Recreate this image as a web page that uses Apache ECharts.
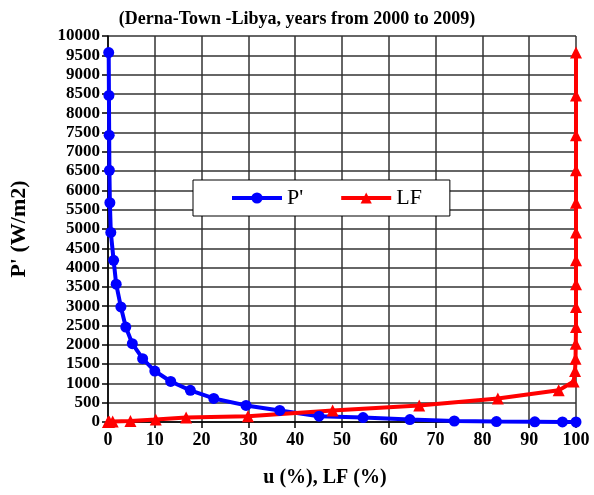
<!DOCTYPE html>
<html>
<head>
<meta charset="utf-8">
<script src="https://cdn.jsdelivr.net/npm/echarts@6/dist/echarts.min.js"></script>
<style>html,body{margin:0;padding:0;background:#fff}#c{width:594px;height:495px}</style>
</head>
<body>
<div id="c"></div>
<script>
// Shared power-density levels (W/m2)
const pLevels = [9570, 8460, 7430, 6520, 5680, 4910, 4190, 3570, 2980, 2460, 2030, 1640, 1320, 1050, 820, 610, 430, 300, 150, 114, 62, 26, 10, 4, 1, 0];
// u (%) for P' series
const uValues = [0.15, 0.2, 0.25, 0.3, 0.4, 0.6, 1.2, 1.75, 2.75, 3.8, 5.2, 7.4, 10.0, 13.4, 17.6, 22.6, 29.5, 36.7, 45.1, 54.5, 64.5, 74.0, 83.0, 91.2, 97.1, 100];
// LF (%) series
const lfValues = [100, 100, 100, 100, 100, 100, 100, 100, 100, 100, 99.95, 99.9, 99.8, 99.5, 96.3, 83.3, 66.5, 48.0, 29.9, 16.7, 10.2, 4.8, 1.0, 0.3, 0.1, 0];
const xTicks = [0, 10, 20, 30, 40, 50, 60, 70, 80, 90, 100];
const yTicks = [0, 500, 1000, 1500, 2000, 2500, 3000, 3500, 4000, 4500, 5000, 5500, 6000, 6500, 7000, 7500, 8000, 8500, 9000, 9500, 10000];

const serif = '"Liberation Serif", "Times New Roman", serif';
const pSeries = uValues.map((u, i) => [u, pLevels[i]]);
const lfSeries = lfValues.map((l, i) => [l, pLevels[i]]);

const chart = echarts.init(document.getElementById('c'), null, {renderer: 'canvas'});
chart.setOption({
  animation: false,
  backgroundColor: '#fff',
  title: {
    text: '(Derna-Town -Libya, years from 2000 to 2009)',
    left: 'center',
    top: 5,
    textStyle: {fontFamily: serif, fontWeight: 'bold', fontSize: 18, color: '#000'}
  },
  legend: {
    left: 193, top: 180,
    padding: [7, 28, 7, 37],
    itemWidth: 50, itemHeight: 14, itemGap: 36,
    backgroundColor: '#fff', borderColor: '#000', borderWidth: 1,
    lineStyle: {width: 4},
    textStyle: {fontFamily: serif, fontSize: 22, color: '#000'},
    data: ["P'", 'LF']
  },
  grid: {left: 108, right: 18, top: 36, bottom: 73, containLabel: false},
  xAxis: {
    type: 'value', min: xTicks[0], max: xTicks[xTicks.length - 1], interval: 10,
    name: 'u (%), LF (%)', nameLocation: 'middle', nameGap: 46,
    nameTextStyle: {fontFamily: serif, fontWeight: 'bold', fontSize: 20, color: '#000', padding: [0, 34, 0, 0]},
    axisLine: {onZero: false, lineStyle: {color: '#000', width: 1.5}},
    axisTick: {show: true, length: 6, lineStyle: {color: '#000', width: 1.5}},
    axisLabel: {fontFamily: serif, fontWeight: 'bold', fontSize: 18, color: '#000', margin: 9},
    splitLine: {show: true, lineStyle: {color: '#333', width: 1.5}}
  },
  yAxis: {
    type: 'value', min: yTicks[0], max: yTicks[yTicks.length - 1], interval: 500,
    name: "P' (W/m2)", nameLocation: 'middle', nameGap: 78,
    nameTextStyle: {fontFamily: serif, fontWeight: 'bold', fontSize: 22, color: '#000'},
    axisLine: {show: true, lineStyle: {color: '#000', width: 1.5}},
    axisTick: {show: true, length: 6, lineStyle: {color: '#000', width: 1.5}},
    axisLabel: {fontFamily: serif, fontWeight: 'bold', fontSize: 17, color: '#000', margin: 8,
      formatter: v => String(v)},
    splitLine: {show: true, lineStyle: {color: '#333', width: 1.5}}
  },
  series: [
    {
      name: "P'", type: 'line', data: pSeries,
      symbol: 'circle', symbolSize: 11, showAllSymbol: true,
      lineStyle: {color: '#0000ff', width: 4},
      itemStyle: {color: '#0000ff'}
    },
    {
      name: 'LF', type: 'line', data: lfSeries,
      symbol: 'triangle', symbolSize: 12, showAllSymbol: true,
      lineStyle: {color: '#ff0000', width: 4},
      itemStyle: {color: '#ff0000'}
    }
  ]
});
</script>
</body>
</html>
